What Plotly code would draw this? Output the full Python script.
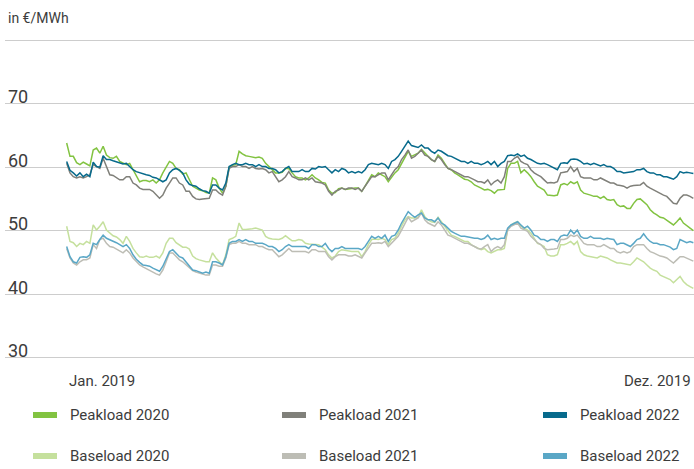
import plotly.graph_objects as go

# Terminpreise Strom (Futures), Handelstage 2019, in EUR/MWh
peak_2020 = [
    63.8, 61.7, 61.7, 60.7, 60.4, 60.8, 60.5, 60.2, 62.7, 63.0, 62.2, 63.3, 61.9, 61.5, 61.4, 61.7, 60.9, 60.7, 60.4, 60.6,
    59.6, 58.5, 57.7, 57.9, 57.9, 57.7, 58.0, 57.5, 58.0, 59.1, 60.1, 60.9, 60.6, 59.8, 59.6, 58.9, 59.1, 58.0, 57.0, 56.7,
    56.4, 56.3, 56.0, 55.9, 58.3,
    58.0, 56.7, 55.9, 57.0, 60.0, 60.3, 60.4, 62.5, 62.1, 61.8, 61.7, 61.6, 61.5, 61.6, 61.4, 60.6, 60.1, 59.7, 59.1, 59.1,
    59.2, 59.8, 59.8, 59.1, 58.5, 58.3, 58.3, 58.0, 58.3, 58.8, 58.3, 58.0, 57.6, 57.5, 56.4, 55.9, 56.0, 56.6, 56.7, 56.5,
    56.6, 56.7, 56.7, 56.7, 56.2, 57.0, 58.0,
    58.8, 58.5, 59.1, 58.8, 58.5, 57.7, 58.5, 59.1, 59.6, 60.6, 61.7, 62.5, 61.7, 61.9, 62.2, 62.8, 62.2, 61.7, 61.2, 60.9,
    61.9, 61.4, 60.6, 59.8, 59.6, 59.1, 58.8, 58.5, 58.1, 58.0, 57.7, 57.2, 57.0, 56.7, 56.4, 56.5, 56.3, 55.9, 56.4, 56.4,
    56.5, 59.8, 60.6, 60.6, 60.9, 59.1, 59.6, 59.1,
    58.5, 57.7, 57.0, 56.7, 56.4, 55.6, 55.5, 55.5, 55.6, 57.2, 57.4, 57.2, 57.7, 57.4, 57.7, 56.4, 55.9, 55.8, 55.6, 55.4,
    55.4, 55.1, 55.4, 54.9, 54.8, 54.9, 54.1, 53.8, 53.9, 53.5, 53.5, 54.3, 54.9, 55.0, 54.6, 54.1, 53.3, 52.8, 52.5, 52.1,
    52.0, 51.6, 51.2, 50.9, 51.4, 52.0, 51.2, 50.8, 50.4, 50.0,
]
peak_2021 = [
    60.6, 59.1, 58.5, 58.3, 58.5, 58.3, 58.5, 58.8, 60.4, 60.1, 59.8, 61.4, 60.1, 58.8, 58.7, 58.4, 58.0, 58.0, 58.5, 58.5,
    57.5, 57.2, 56.7, 56.5, 56.5, 56.5, 56.2, 55.6, 55.1, 55.6, 56.7, 57.5, 58.3, 58.3, 57.5, 57.2, 56.2, 56.2, 55.4, 55.0,
    54.9, 55.0, 55.0, 55.1, 56.4,
    56.4, 55.9, 55.6, 57.0, 59.8, 60.1, 60.1, 60.4, 60.1, 60.1, 59.8, 60.1, 59.8, 59.7, 59.8, 59.6, 59.1, 59.3, 58.5, 57.7,
    58.0, 58.5, 59.3, 58.5, 58.3, 58.0, 58.0, 58.3, 58.0, 58.3, 57.7, 57.6, 57.5, 57.2, 56.2, 55.6, 56.2, 56.4, 56.7, 56.5,
    56.7, 56.7, 56.5, 56.7, 56.2, 57.0, 57.7,
    58.5, 58.5, 58.8, 59.1, 59.1, 58.0, 58.8, 59.6, 60.1, 61.2, 61.9, 62.7, 61.4, 61.7, 62.2, 62.7, 61.9, 61.7, 61.2, 60.9,
    61.7, 61.2, 60.4, 59.8, 59.6, 59.3, 59.1, 58.8, 58.5, 58.5, 58.3, 58.0, 57.7, 57.7, 57.5, 58.0, 57.2, 57.7, 58.0, 57.5,
    58.5, 60.9, 60.9, 61.4, 61.7, 60.9, 60.6, 60.4,
    59.6, 59.1, 58.8, 58.5, 58.0, 57.5, 57.6, 57.5, 57.7, 59.1, 59.2, 59.3, 60.1, 59.3, 59.8, 58.5, 58.3, 58.3, 58.3, 58.0,
    58.0, 58.3, 58.0, 57.7, 57.5, 57.5, 57.2, 57.1, 57.0, 56.7, 57.0, 57.1, 57.2, 57.2, 57.6, 57.0, 56.7, 56.4, 56.2, 55.9,
    55.6, 55.4, 54.9, 54.3, 54.2, 55.1, 55.6, 55.6, 55.4, 55.1,
]
peak_2022 = [
    60.9, 59.5, 59.1, 58.6, 59.1, 58.5, 58.9, 58.5, 60.8, 60.1, 60.0, 61.8, 61.2, 61.2, 61.0, 60.8, 60.6, 60.5, 60.6, 60.1,
    59.6, 59.3, 59.1, 59.0, 58.8, 58.7, 58.4, 58.3, 58.0, 57.7, 58.0, 59.1, 59.6, 59.8, 59.5, 59.1, 58.0, 57.3, 57.1, 57.0,
    56.6, 56.3, 56.2, 55.9, 57.2,
    57.2, 56.7, 56.4, 57.5, 60.1, 60.4, 60.6, 60.4, 60.4, 60.6, 60.4, 60.4, 60.1, 60.4, 60.1, 60.1, 59.8, 59.8, 59.6, 59.1,
    59.3, 59.8, 60.1, 59.3, 59.3, 59.3, 59.6, 59.3, 59.3, 59.8, 59.7, 60.1, 60.0, 60.1, 59.6, 59.1, 59.6, 59.3, 59.8, 59.6,
    59.1, 59.3, 59.1, 59.3, 59.1, 59.6, 60.4,
    60.6, 60.5, 60.4, 60.6, 60.4, 59.8, 60.9, 61.2, 61.7, 62.5, 63.3, 64.1, 63.4, 63.3, 63.1, 63.5, 63.0, 63.0, 62.5, 62.2,
    62.7, 62.5, 62.2, 61.8, 61.7, 61.4, 61.2, 60.9, 60.9, 60.6, 60.9, 60.6, 60.6, 60.4, 60.6, 60.9, 60.4, 60.9, 60.1, 60.6,
    60.9, 61.8, 61.9, 61.8, 62.1, 61.7, 61.9, 61.4,
    61.2, 60.9, 60.6, 60.5, 60.6, 60.4, 60.1, 59.8, 59.6, 60.6, 60.7, 60.6, 61.2, 61.3, 61.2, 60.9, 60.5, 60.6, 60.4, 60.6,
    60.4, 60.2, 60.4, 60.1, 60.1, 59.8, 59.3, 59.3, 59.1, 59.2, 59.3, 59.3, 59.6, 59.6, 59.8, 59.3, 59.1, 59.1, 58.8, 58.8,
    58.5, 58.5, 58.3, 58.1, 58.5, 59.3, 59.1, 59.2, 59.1, 59.0,
]
base_2020 = [
    50.7, 48.3, 48.1, 47.5, 48.0, 47.8, 48.3, 48.0, 50.9, 50.1, 50.7, 51.4, 50.1, 49.6, 49.2, 49.0, 48.6, 48.0, 49.1, 48.3,
    47.2, 46.5, 45.9, 45.8, 46.0, 45.8, 45.8, 46.0, 45.7, 46.5, 48.0, 48.8, 48.8, 48.1, 47.8, 47.4, 47.4, 47.1, 46.0, 45.6,
    45.4, 45.2, 45.1, 45.1, 46.5,
    45.7, 45.1, 44.6, 46.2, 48.6, 48.8, 49.1, 51.2, 50.2, 50.2, 50.2, 50.3, 50.4, 50.3, 50.1, 49.1, 48.8, 48.7, 48.6, 48.6,
    48.8, 49.2, 48.8, 48.4, 48.4, 48.6, 48.5, 48.0, 47.9, 47.9, 47.8, 47.8, 47.4, 47.0, 46.2, 45.7, 46.0, 46.7, 47.0, 46.9,
    46.7, 46.7, 46.7, 46.7, 45.9, 46.7, 47.8,
    48.6, 48.7, 48.6, 48.8, 48.6, 47.8, 48.6, 48.8, 49.6, 50.7, 51.7, 52.2, 52.0, 52.0, 52.1, 53.3, 52.2, 51.7, 51.4, 51.3,
    52.1, 51.4, 50.7, 49.9, 49.3, 49.1, 48.8, 48.6, 48.3, 48.3, 47.8, 47.5, 47.2, 47.0, 47.2, 46.7, 46.5, 46.7, 47.0, 47.0,
    47.2, 50.1, 50.9, 51.2, 51.4, 50.7, 50.4, 50.1,
    49.6, 48.8, 48.0, 47.8, 47.5, 46.2, 46.0, 46.0, 46.2, 47.8, 47.8, 48.0, 48.3, 47.8, 48.3, 46.7, 46.2, 46.0, 45.9, 45.9,
    45.7, 46.0, 45.9, 45.7, 45.4, 45.1, 44.9, 44.9, 44.8, 44.6, 44.6, 45.1, 45.7, 45.4, 45.1, 44.6, 44.1, 43.8, 43.6, 43.0,
    42.8, 42.5, 42.3, 41.8, 42.3, 42.8, 42.0, 41.5, 41.2, 40.9,
]
base_2021 = [
    47.2, 45.7, 44.9, 44.6, 45.1, 45.4, 45.4, 45.7, 47.8, 47.2, 48.6, 48.8, 48.0, 47.5, 47.4, 47.1, 46.7, 46.5, 47.0, 46.5,
    45.7, 45.1, 44.6, 44.3, 44.0, 43.8, 43.5, 43.2, 43.0, 43.8, 45.1, 46.5, 46.5, 45.9, 45.4, 45.1, 44.6, 44.1, 43.7, 43.5,
    43.3, 43.1, 43.0, 43.0, 44.6,
    44.6, 44.4, 44.4, 45.7, 47.8, 48.0, 48.0, 48.3, 48.0, 48.0, 47.8, 47.8, 47.8, 47.5, 47.5, 47.2, 47.0, 47.0, 46.5, 45.9,
    46.2, 46.7, 47.2, 46.7, 46.7, 46.7, 46.7, 46.7, 46.5, 47.0, 47.0, 46.7, 46.7, 46.7, 45.9, 45.4, 45.9, 46.2, 46.2, 46.2,
    46.0, 46.0, 46.2, 46.0, 45.7, 46.5, 47.2,
    48.0, 48.0, 48.1, 48.0, 48.3, 47.5, 48.0, 48.6, 49.1, 50.1, 51.2, 52.1, 51.4, 51.7, 52.0, 52.8, 51.7, 51.2, 50.9, 50.7,
    51.4, 50.9, 50.1, 49.3, 49.1, 48.8, 48.6, 48.3, 48.0, 48.0, 47.8, 47.5, 47.2, 47.1, 47.5, 47.8, 46.7, 47.2, 47.5, 47.2,
    47.8, 50.1, 50.7, 50.9, 51.2, 50.4, 50.1, 49.9,
    49.1, 48.6, 48.1, 47.8, 47.2, 47.0, 47.0, 47.1, 47.2, 48.6, 48.6, 48.8, 49.3, 49.1, 49.3, 48.6, 48.0, 47.8, 47.8, 47.8,
    47.5, 47.5, 47.8, 47.5, 47.2, 47.2, 46.7, 46.5, 46.7, 46.5, 46.7, 47.5, 47.8, 47.8, 47.8, 47.2, 46.7, 46.5, 46.2, 46.0,
    45.9, 45.7, 45.3, 44.9, 45.4, 45.9, 45.9, 45.7, 45.5, 45.2,
]
base_2022 = [
    47.5, 45.9, 45.1, 44.9, 45.8, 45.9, 45.8, 46.2, 48.0, 47.8, 48.6, 49.3, 48.8, 48.6, 48.4, 48.1, 47.8, 47.5, 47.8, 47.2,
    46.2, 45.5, 45.0, 44.6, 44.5, 44.4, 44.1, 43.8, 43.6, 44.4, 45.7, 46.7, 47.0, 46.5, 45.9, 45.7, 45.1, 44.4, 43.8, 43.7,
    43.5, 43.3, 43.5, 43.3, 45.1,
    45.1, 44.9, 44.6, 45.9, 48.0, 48.3, 48.3, 48.6, 48.3, 48.6, 48.3, 48.3, 48.0, 48.0, 48.0, 47.8, 47.5, 47.5, 47.2, 46.7,
    47.0, 47.5, 47.8, 47.5, 47.5, 47.6, 47.6, 47.5, 47.2, 47.8, 47.8, 47.5, 47.5, 48.0, 47.2, 46.7, 47.2, 47.2, 47.5, 47.2,
    47.2, 47.2, 47.2, 47.2, 47.0, 47.5, 48.3,
    49.1, 48.8, 49.1, 48.8, 49.3, 48.3, 49.1, 49.3, 50.1, 51.2, 52.0, 53.0, 52.5, 52.1, 52.5, 52.8, 52.0, 51.7, 51.7, 51.4,
    52.0, 51.2, 50.9, 50.4, 49.9, 49.6, 49.3, 49.1, 49.1, 49.0, 48.8, 48.8, 48.8, 48.6, 48.8, 49.3, 48.6, 48.8, 48.6, 48.8,
    48.8, 50.4, 50.9, 51.2, 51.4, 50.9, 50.4, 50.7,
    50.1, 49.3, 49.1, 48.6, 48.6, 48.3, 48.6, 48.6, 48.3, 49.1, 49.3, 49.2, 50.1, 49.5, 50.1, 49.1, 48.8, 48.8, 49.1, 48.8,
    48.8, 48.8, 48.6, 48.8, 48.7, 48.6, 47.8, 48.0, 48.0, 47.8, 47.5, 48.0, 48.6, 48.8, 49.5, 48.8, 48.3, 48.0, 48.0, 47.8,
    47.8, 47.6, 47.4, 47.0, 47.2, 48.6, 48.3, 48.1, 48.3, 48.1,
]

tage = list(range(len(peak_2020)))  # Handelstag-Nummer
y_ticks = [30, 40, 50, 60, 70, 80]
y_labels = ["30", "40", "50", "60", "70", ""]

serien = [
    ("Baseload 2020", base_2020, "#c5e09d"),
    ("Baseload 2021", base_2021, "#bdbdb5"),
    ("Baseload 2022", base_2022, "#5aa7c6"),
    ("Peakload 2020", peak_2020, "#82c341"),
    ("Peakload 2021", peak_2021, "#80807a"),
    ("Peakload 2022", peak_2022, "#076a8c"),
]
legende = [
    ["Peakload 2020", "Peakload 2021", "Peakload 2022"],
    ["Baseload 2020", "Baseload 2021", "Baseload 2022"],
]
farbe = {name: col for name, _, col in serien}

W, H = 694, 469
ML, MR, MT, MB = 5, 0, 37, 105
PW, PH = W - ML - MR, H - MT - MB

def px_x(p):
    return (p - ML) / PW

def px_y(p):
    return (H - MB - p) / PH

FONT = "Roboto, 'Open Sans', sans-serif"
TXT = "#3c3c3c"

fig = go.Figure()
for name, werte, col in serien:
    fig.add_trace(go.Scatter(
        x=tage, y=werte, mode="lines", name=name,
        line=dict(color=col, width=1.5), showlegend=False,
    ))

n = len(tage)
fig.update_layout(
    width=W, height=H,
    margin=dict(l=ML, r=MR, t=MT, b=MB, pad=0),
    plot_bgcolor="white", paper_bgcolor="white",
    font=dict(family=FONT, color=TXT),
    xaxis=dict(range=[-18.6, n - 1 + 0.2], showgrid=False, zeroline=False,
               showticklabels=False, ticks=""),
    yaxis=dict(range=[29, 80.5], tickvals=y_ticks, ticktext=y_labels,
               ticklabelposition="inside top", ticklabelshift=6,
               showgrid=True, gridcolor="#cdcdcd", gridwidth=1,
               zeroline=False, ticks="",
               tickfont=dict(size=18, color=TXT, family=FONT)),
)

ann = [
    dict(text="in €/MWh", xref="paper", yref="paper", x=px_x(6), y=px_y(18),
         xanchor="left", yanchor="middle", showarrow=False,
         font=dict(size=14, color=TXT)),
    dict(text="Jan. 2019", xref="x", yref="paper", x=tage[0], y=px_y(381),
         xanchor="left", yanchor="middle", showarrow=False,
         font=dict(size=15, color=TXT)),
    dict(text="Dez. 2019", xref="x", yref="paper", x=tage[-1], y=px_y(381),
         xanchor="right", yanchor="middle", showarrow=False,
         font=dict(size=15, color=TXT)),
]
shapes = []
spalten = [33, 282, 543]
zeilen = [415, 456]
for zi, reihe in enumerate(legende):
    for si, name in enumerate(reihe):
        x0 = spalten[si]
        yc = zeilen[zi]
        shapes.append(dict(type="rect", xref="paper", yref="paper",
                           x0=px_x(x0), x1=px_x(x0 + 24),
                           y0=px_y(yc + 3), y1=px_y(yc - 3),
                           fillcolor=farbe[name], line=dict(width=0)))
        ann.append(dict(text=name, xref="paper", yref="paper",
                        x=px_x(x0 + 35), y=px_y(yc), xanchor="left",
                        yanchor="middle", showarrow=False,
                        font=dict(size=15, color=TXT)))

fig.update_layout(annotations=ann, shapes=shapes)
fig.write_html("out.html", config={"displayModeBar": False},
               post_script="document.body.style.margin='0px';")
